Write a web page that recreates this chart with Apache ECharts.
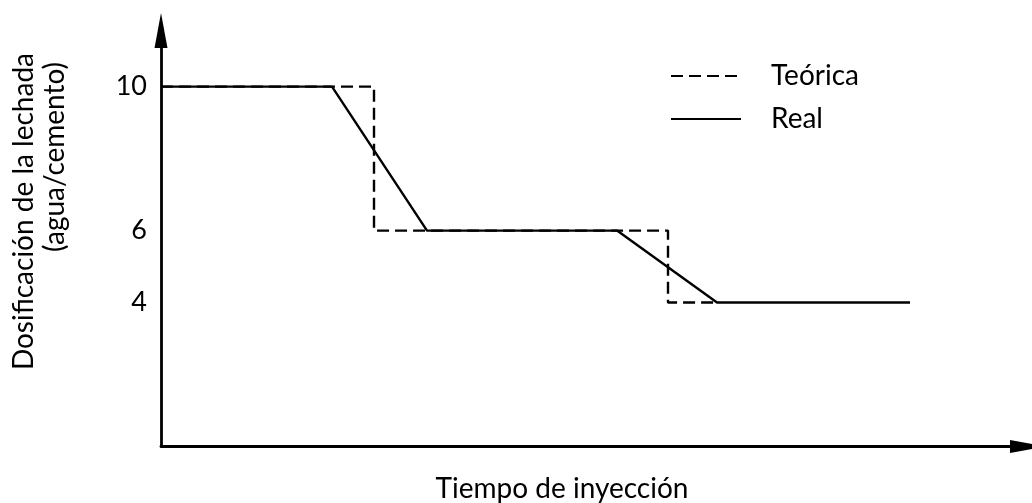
<!DOCTYPE html>
<html>
<head>
<meta charset="utf-8">
<script src="https://cdn.jsdelivr.net/npm/echarts@6/dist/echarts.min.js"></script>
<style>
html,body{margin:0;padding:0;background:#fff;}
#main{width:1032px;height:503px;}
</style>
</head>
<body>
<div id="main"></div>
<script>
// Data (x = injection time, arbitrary units; y = water/cement ratio)
const teoricaX = [0, 21.3, 21.3, 50.7, 50.7, 55.7];
const teoricaY = [10, 10, 6, 6, 4, 4];
const realX = [0, 17.1, 26.6, 45.6, 55.6, 74.9];
const realY = [10, 10, 6, 6, 4, 4];
const yTickValues = [4, 6, 10];
const seriesNames = ['Teórica', 'Real'];
const xTitle = 'Tiempo de inyección';
const yTitleLines = ['Dosificación de la lechada', '(agua/cemento)'];

const FONT = 'Lato';
const FS = 28;
const zip = (xs, ys) => xs.map((x, i) => [x, ys[i]]);

const chart = echarts.init(document.getElementById('main'), null, {renderer: 'canvas'});
chart.setOption({
  backgroundColor: '#ffffff',
  animation: false,
  grid: {left: 161, right: 4.5, top: 30.5, bottom: 56.5, containLabel: false},
  xAxis: {
    type: 'value', min: 0, max: 86.65,
    axisLine: {show: true, symbol: ['none', 'triangle'], symbolSize: [13, 35],
      lineStyle: {color: '#000', width: 2.8}},
    axisTick: {show: false}, axisLabel: {show: false}, splitLine: {show: false}
  },
  yAxis: {
    type: 'value', min: 0, max: 11.56,
    axisLine: {show: true, onZero: false, symbol: ['none', 'triangle'], symbolSize: [13, 35],
      lineStyle: {color: '#000', width: 2.8}},
    axisTick: {show: false},
    axisLabel: {show: true, customValues: yTickValues, margin: 14,
      color: '#000', fontFamily: FONT, fontSize: 27},
    splitLine: {show: false}
  },
  legend: {
    orient: 'vertical', left: 670, top: 62, padding: 0,
    itemWidth: 70, itemHeight: 14, itemGap: 15,
    itemStyle: {opacity: 0},
    textStyle: {color: '#000', fontFamily: FONT, fontSize: FS, lineHeight: 28, padding: [0, 0, 0, 25]},
    data: seriesNames
  },
  series: [
    {name: seriesNames[0], type: 'line', symbol: 'none', data: zip(teoricaX, teoricaY),
      lineStyle: {color: '#000', width: 2.4, type: [12, 6]}, itemStyle: {color: '#000'}, z: 3},
    {name: seriesNames[1], type: 'line', symbol: 'none', data: zip(realX, realY),
      lineStyle: {color: '#000', width: 2.4, type: 'solid'}, itemStyle: {color: '#000'}, z: 4}
  ],
  graphic: [
    {type: 'text', x: 562, y: 489, style: {text: xTitle, fontFamily: FONT, fontSize: FS, fill: '#000',
      textAlign: 'center', textVerticalAlign: 'middle'}},
    {type: 'text', x: 24, y: 53, rotation: Math.PI / 2, style: {text: yTitleLines[0], fontFamily: FONT, fontSize: FS, fill: '#000',
      textAlign: 'right', textVerticalAlign: 'middle'}},
    {type: 'text', x: 55, y: 62, rotation: Math.PI / 2, style: {text: yTitleLines[1], fontFamily: FONT, fontSize: FS, fill: '#000',
      textAlign: 'right', textVerticalAlign: 'middle'}}
  ]
});
</script>
</body>
</html>
